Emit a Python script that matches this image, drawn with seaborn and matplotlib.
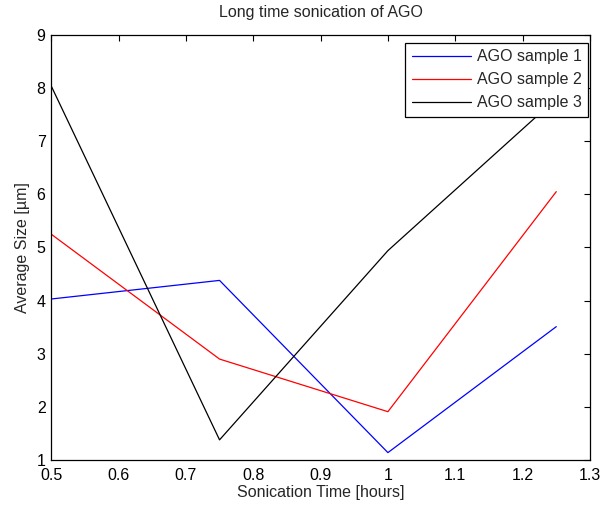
import matplotlib
matplotlib.use('Agg')
import matplotlib.pyplot as plt
import seaborn as sns
import pandas as pd

# data
hours = [0.5, 0.75, 1.0, 1.25]
sample1 = [4.03, 4.38, 1.14, 3.51]
sample2 = [5.25, 2.90, 1.91, 6.05]
sample3 = [8.04, 1.38, 4.94, 7.80]
labels = ['AGO sample 1', 'AGO sample 2', 'AGO sample 3']
colors = ['#0000ff', '#ff0000', '#000000']

df = pd.DataFrame({
    'hours': hours * 3,
    'size': sample1 + sample2 + sample3,
    'sample': [labels[0]] * 4 + [labels[1]] * 4 + [labels[2]] * 4,
})

sns.set_style('white')
plt.rcParams['font.family'] = ['Liberation Sans', 'DejaVu Sans']

fig = plt.figure(figsize=(6.02, 5.05), dpi=100)
ax = fig.add_axes([0.085, 0.089, 0.895, 0.842])

sns.lineplot(data=df, x='hours', y='size', hue='sample', palette=colors,
             linewidth=0.9, ax=ax)

ax.set_xlim(0.5, 1.3)
ax.set_ylim(1, 9)
ax.set_xticks([0.5, 0.6, 0.7, 0.8, 0.9, 1.0, 1.1, 1.2, 1.3])
ax.set_xticklabels(['0.5', '0.6', '0.7', '0.8', '0.9', '1', '1.1', '1.2', '1.3'])
ax.set_yticks(range(1, 10))
ax.tick_params(direction='in', top=True, right=True, length=4, width=0.8,
               labelsize=11.5, colors='black')
ax.tick_params(axis='x', pad=6)
ax.tick_params(axis='y', pad=4)
for s in ax.spines.values():
    s.set_color('black')
    s.set_linewidth(0.9)

ax.set_xlabel('Sonication Time [hours]', fontsize=11.5, labelpad=1)
ax.set_ylabel('Average Size [\u00b5m]', fontsize=11.5, labelpad=5)
ax.set_title('Long time sonication of AGO', fontsize=11.5, pad=13)

leg = ax.legend(loc='upper right', bbox_to_anchor=(0.996, 0.981), borderaxespad=0,
                fontsize=11.5, frameon=True, fancybox=False,
                edgecolor='black', framealpha=1, borderpad=0.4, handlelength=3.7,
                handletextpad=0.35, labelspacing=0.5)
leg.get_frame().set_linewidth(0.9)

plt.savefig('out.png', dpi=100)
plt.close()
